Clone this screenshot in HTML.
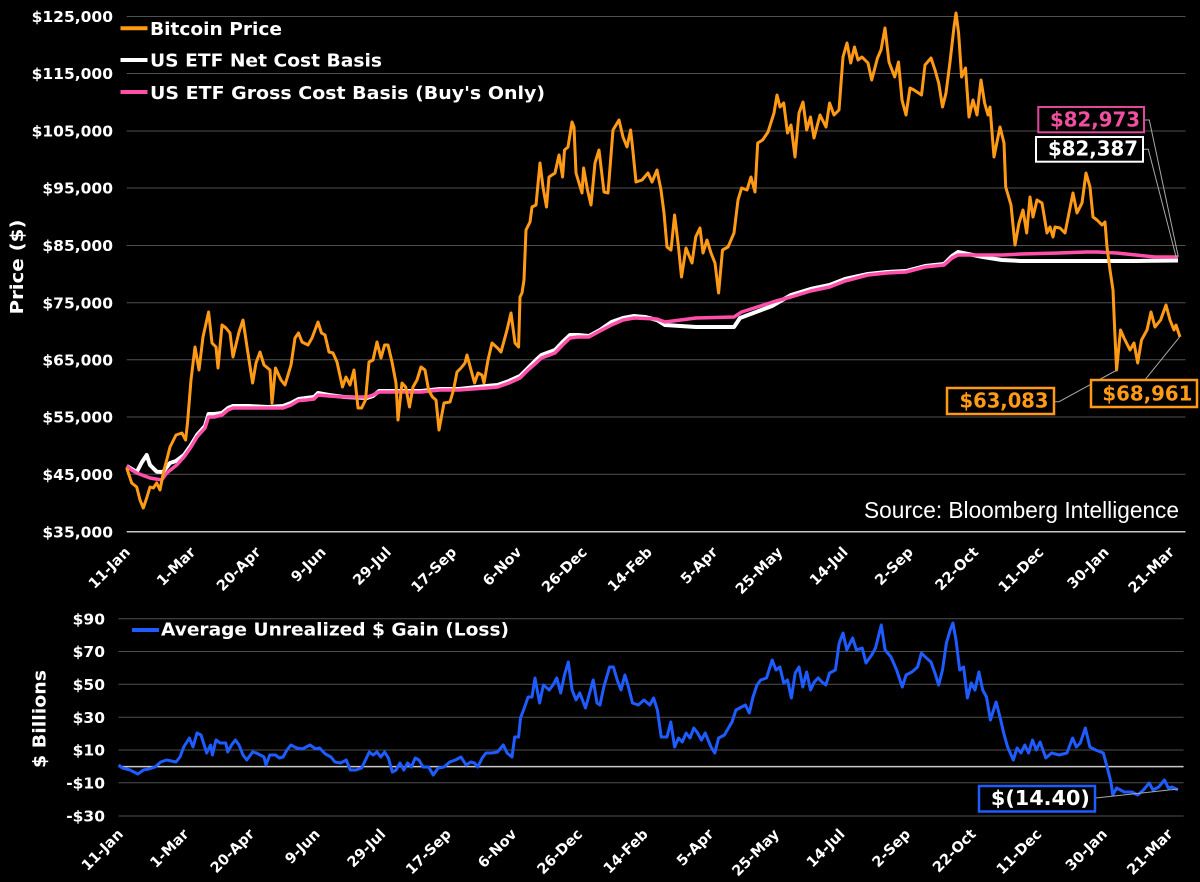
<!DOCTYPE html>
<html><head><meta charset="utf-8"><style>
html,body{margin:0;padding:0;background:#000;}
svg{display:block;}
text{font-family:"DejaVu Sans","Liberation Sans",sans-serif;font-weight:bold;fill:#fff;}
</style></head><body>
<svg width="1200" height="882" viewBox="0 0 1200 882" xmlns="http://www.w3.org/2000/svg">
<rect width="1200" height="882" fill="#000"/>
<!-- top gridlines -->
<g stroke="#505050" stroke-width="1">
<line x1="126.7" x2="1185.5" y1="16.5" y2="16.5"/>
<line x1="126.7" x2="1185.5" y1="73.5" y2="73.5"/>
<line x1="126.7" x2="1185.5" y1="131" y2="131"/>
<line x1="126.7" x2="1185.5" y1="188" y2="188"/>
<line x1="126.7" x2="1185.5" y1="245.5" y2="245.5"/>
<line x1="126.7" x2="1185.5" y1="302.7" y2="302.7"/>
<line x1="126.7" x2="1185.5" y1="359.8" y2="359.8"/>
<line x1="126.7" x2="1185.5" y1="417" y2="417"/>
<line x1="126.7" x2="1185.5" y1="474.3" y2="474.3"/>
</g>
<line x1="126.7" x2="1185.5" y1="531.7" y2="531.7" stroke="#c8c8c8" stroke-width="1.5"/>
<!-- top y labels -->
<g font-size="15.5" text-anchor="end">
<text x="113" y="22">$125,000</text>
<text x="113" y="79">$115,000</text>
<text x="113" y="136.5">$105,000</text>
<text x="113" y="193.5">$95,000</text>
<text x="113" y="251">$85,000</text>
<text x="113" y="308.3">$75,000</text>
<text x="113" y="365.4">$65,000</text>
<text x="113" y="422.6">$55,000</text>
<text x="113" y="480">$45,000</text>
<text x="113" y="537.3">$35,000</text>
</g>
<text transform="translate(23,267) rotate(-90)" font-size="18" text-anchor="middle" textLength="95" lengthAdjust="spacingAndGlyphs">Price ($)</text>
<!-- top x labels -->
<g font-size="14.5" text-anchor="end">
<text transform="translate(131,553) rotate(-45)">11-Jan</text>
<text transform="translate(196.3,553) rotate(-45)">1-Mar</text>
<text transform="translate(261.5,553) rotate(-45)">20-Apr</text>
<text transform="translate(326.8,553) rotate(-45)">9-Jun</text>
<text transform="translate(392,553) rotate(-45)">29-Jul</text>
<text transform="translate(457.3,553) rotate(-45)">17-Sep</text>
<text transform="translate(522.5,553) rotate(-45)">6-Nov</text>
<text transform="translate(587.8,553) rotate(-45)">26-Dec</text>
<text transform="translate(653,553) rotate(-45)">14-Feb</text>
<text transform="translate(718.3,553) rotate(-45)">5-Apr</text>
<text transform="translate(783.5,553) rotate(-45)">25-May</text>
<text transform="translate(848.8,553) rotate(-45)">14-Jul</text>
<text transform="translate(914,553) rotate(-45)">2-Sep</text>
<text transform="translate(979.3,553) rotate(-45)">22-Oct</text>
<text transform="translate(1044.5,553) rotate(-45)">11-Dec</text>
<text transform="translate(1109.8,553) rotate(-45)">30-Jan</text>
<text transform="translate(1175,553) rotate(-45)">21-Mar</text>
</g>
<!-- legend top -->
<line x1="120.5" x2="147.5" y1="28.3" y2="28.3" stroke="#ff9a16" stroke-width="4"/>
<text x="150" y="35" font-size="18" textLength="132" lengthAdjust="spacingAndGlyphs">Bitcoin Price</text>
<line x1="120.5" x2="147.5" y1="60" y2="60" stroke="#fff" stroke-width="4"/>
<text x="150" y="66.7" font-size="18" textLength="232" lengthAdjust="spacingAndGlyphs">US ETF Net Cost Basis</text>
<line x1="120.5" x2="147.5" y1="92" y2="92" stroke="#ff4fa8" stroke-width="4"/>
<text x="150" y="99" font-size="18" textLength="395" lengthAdjust="spacingAndGlyphs">US ETF Gross Cost Basis (Buy's Only)</text>
<!-- source -->
<text x="864" y="518" font-size="23" font-weight="normal" style="font-weight:normal;font-family:'Liberation Sans',sans-serif" fill="#d6d6d6" textLength="315" lengthAdjust="spacingAndGlyphs">Source: Bloomberg Intelligence</text>
<!-- white net cost basis -->
<polyline fill="none" stroke="#fff" stroke-width="4" stroke-linejoin="round" points="126.7,466 131.7,469 136.7,472 142,462 146.7,455 150,465 156.7,471.7 163,472 170,463 176,461 184,455 191,445 197,435 205,426 208.6,414 214,414 222,413 228,408 233,406 249,406 268,407 283,406 291,403 298.5,399 306,398 314,397 318,393 329,395 344,397 367,398 373,396 379,391 402,391 421,391 440,389 459,389 486,386 497.5,385 509,381 520,376 528,368 536,360 541.5,355 555,350 562.6,342 570,335 578,335 589,336 600,330 611.5,322 623,318 634,316 645,317 657,320 665,325 696,327 734,327 740,318 772,306 791,295 810.5,289 829.6,285 845,279 868,274 887,272 906,271 925,266 944,264 952,256 958,252 983,257 1002,260 1021,261 1097.5,261 1136,261 1178,260.5"/>
<!-- pink gross cost basis -->
<polyline fill="none" stroke="#ff4fa8" stroke-width="3.5" stroke-linejoin="round" points="126.7,466 131.7,470 136.7,473 150,478 161.7,480 166.7,473 176.7,465 184,457 191,447 197,437 205,428 208.6,417 214,417 222,415 228,410 233,408 249,408 268,408 283,408 291,405 298.5,400.6 306,400 314,399 318,395 329,396 344,397 367,397 373,395 379,392 402,392 421,392 440,390 459,390 486,388 497.5,387 509,383 520,378 528,370 536,363 541.5,358 555,353 562.6,345 570,338 578,337 589,337 600,331 611.5,325 623,320 634,318 657,319 665,322 696,318 734,317 741.6,312 776,301 791,297 810.5,291 829.6,287 845,281 868,275 887,273 906,272 925,267 944,265 952,258 958,255 983,255 1002,255 1021,254 1059,253 1086,252 1097.5,252 1116.6,253 1136,255 1155,257 1178,257"/>
<!-- orange bitcoin -->
<polyline fill="none" stroke="#ff9a16" stroke-width="3" stroke-linejoin="round" points="126.7,468 131.7,483 136.7,487 140,500 143.3,508 146.7,498 150,487 153.3,488 156.7,483 160,490 163.3,473 166.7,460 170,447 172,443 176,435 182,433 185.6,440 187.5,423 191,380 195,347 199,370 203,337 208.6,312 212,343 216,347 218,368 222,325 226,328 230,333 233,357 239,332 243,320 247,347 252.6,383 256,363 260,352 264,365 270,370 272,403 275.5,368 281,380 285,385 291,365 295,338 298.5,333 302,342 308,345 312,338 318,322 321.5,333 325,335 329,352 333,353 337,362 342.5,387 346,377 350,385 354,370 358,408 361.6,408 365.5,400 369,362 373,360 377,342 381,358 384.6,345 388,345 392,362 396,383 398,420 402,383 405.7,387 409.5,407 413,387 417,380 421,367 425,370 428.6,390 432.5,397 436,400 439,430 444,403 450,402 453.5,390 457,372 461,368 465,363 467,355 471,370 474.6,383 478,373 482,375 484,383 488,360 492,343 497.5,348 501,352 507,330 511,313 515,343 518.6,347 520,297 522,293 524,280 526,230 530,222 532,207 536,205 540,163 543,187 546.5,207 549,177 555,173 559,155 562.6,177 564.5,150 568,147 572,122 574,127 576,173 582,193 583.6,168 587.5,190 591,205 595,163 599,150 604,192 608,193 613,130 619,120 623,137 627,147 630.6,130 632.5,147 636,182 642,180 648,173 652,182 657,170 661,190 664,213 667,247 671,250 674.6,215 678.5,247 681.5,277 686,248 692,263 695.7,237 700,228 703,253 707,240 711,253 715,263 718.6,293 722.5,250 728,247 734,233 738,200 741.6,188 747,190 751,177 755,192 757.7,143 762.6,140 768,132 774,113 777,95 780,107 783.7,103 787.5,133 791,125 795,157 799,113 803,102 806.7,130 810.5,117 814,138 820,115 826,127 829.6,103 834,115 839,110 843,57 847,43 850.7,63 854.5,47 858,60 862,57 868,63 871.7,80 877.5,58 881,50 885,28 889,62 894.7,77 898.5,62 902,100 906,115 910,88 914,90 921.5,95 925,65 931,58 935,70 938.7,83 942.5,107 946,93 950,62 954,27 956,13 958.6,33 961.6,77 965.5,68 969,117 973,100 977,115 981,80 984.6,103 988,115 990,107 994,157 1000,127 1004,143 1005.7,187 1011,205 1015,245 1019,223 1023,210 1026.7,233 1030,197 1033,217 1037,200 1042,203 1047,233 1050,227 1053,237 1055,227 1060,228 1065,233 1073,193 1077,213 1082,203 1086,173 1090,187 1093,217 1097,220 1102,225 1105,222 1107,247 1110,270 1113,290 1114.7,330 1116.6,370 1120.5,330 1124,338 1130,350 1134,343 1137.7,363 1141.5,340 1147,330 1151,312 1155,327 1160.6,320 1166,305 1170,320 1174,330 1176,325 1180,337"/>
<!-- leader lines top -->
<g fill="none" stroke="#a8a8a8" stroke-width="1">
<polyline points="1145,120 1149.3,120 1178.3,256.7"/>
<polyline points="1144,149.3 1148.3,149.3 1176.7,259.3"/>
<polyline points="1055,401.7 1059,401.7 1117,370"/>
<polyline points="1145.4,379.3 1179.8,336.7"/>
</g>
<!-- callouts top -->
<rect x="1038.3" y="107" width="105.7" height="25.3" fill="#000" stroke="#e0489a" stroke-width="2"/>
<text x="1140" y="126.7" font-size="20" text-anchor="end" fill="#f0509f" style="fill:#f0509f" textLength="90" lengthAdjust="spacingAndGlyphs">$82,973</text>
<rect x="1036" y="137" width="107" height="24.7" fill="#000" stroke="#fff" stroke-width="2"/>
<text x="1138" y="155.5" font-size="20" text-anchor="end" textLength="90" lengthAdjust="spacingAndGlyphs">$82,387</text>
<rect x="947" y="388" width="107" height="26" fill="#000" stroke="#ff9a16" stroke-width="2.5"/>
<text x="1048.5" y="407.7" font-size="20" text-anchor="end" style="fill:#ff9a16" textLength="89" lengthAdjust="spacingAndGlyphs">$63,083</text>
<rect x="1091" y="380" width="106" height="27" fill="#000" stroke="#ff9a16" stroke-width="2.5"/>
<text x="1192.4" y="400.7" font-size="20" text-anchor="end" style="fill:#ff9a16" textLength="90" lengthAdjust="spacingAndGlyphs">$68,961</text>

<!-- bottom chart gridlines -->
<g stroke="#505050" stroke-width="1">
<line x1="118.6" x2="1183.6" y1="618.7" y2="618.7"/>
<line x1="118.6" x2="1183.6" y1="651.5" y2="651.5"/>
<line x1="118.6" x2="1183.6" y1="684.2" y2="684.2"/>
<line x1="118.6" x2="1183.6" y1="717.3" y2="717.3"/>
<line x1="118.6" x2="1183.6" y1="750" y2="750"/>
<line x1="118.6" x2="1183.6" y1="782.7" y2="782.7"/>
<line x1="118.6" x2="1183.6" y1="816" y2="816"/>
</g>
<line x1="118.6" x2="1183.6" y1="766.6" y2="766.6" stroke="#c8c8c8" stroke-width="1.5"/>
<g font-size="15.5" text-anchor="end">
<text x="105" y="624.3">$90</text>
<text x="105" y="657">$70</text>
<text x="105" y="689.8">$50</text>
<text x="105" y="722.9">$30</text>
<text x="105" y="755.6">$10</text>
<text x="105" y="788.3">-$10</text>
<text x="105" y="821.6">-$30</text>
</g>
<text transform="translate(45.5,719) rotate(-90)" font-size="18" text-anchor="middle" textLength="98" lengthAdjust="spacingAndGlyphs">$ Billions</text>
<g font-size="14.5" text-anchor="end">
<text transform="translate(124,835) rotate(-45)">11-Jan</text>
<text transform="translate(189.6,835) rotate(-45)">1-Mar</text>
<text transform="translate(255.2,835) rotate(-45)">20-Apr</text>
<text transform="translate(320.8,835) rotate(-45)">9-Jun</text>
<text transform="translate(386.4,835) rotate(-45)">29-Jul</text>
<text transform="translate(452,835) rotate(-45)">17-Sep</text>
<text transform="translate(517.6,835) rotate(-45)">6-Nov</text>
<text transform="translate(583.2,835) rotate(-45)">26-Dec</text>
<text transform="translate(648.8,835) rotate(-45)">14-Feb</text>
<text transform="translate(714.4,835) rotate(-45)">5-Apr</text>
<text transform="translate(780,835) rotate(-45)">25-May</text>
<text transform="translate(845.6,835) rotate(-45)">14-Jul</text>
<text transform="translate(911.2,835) rotate(-45)">2-Sep</text>
<text transform="translate(976.8,835) rotate(-45)">22-Oct</text>
<text transform="translate(1042.4,835) rotate(-45)">11-Dec</text>
<text transform="translate(1108,835) rotate(-45)">30-Jan</text>
<text transform="translate(1173.6,835) rotate(-45)">21-Mar</text>
</g>
<line x1="132" x2="159" y1="630" y2="630" stroke="#1f5cff" stroke-width="4"/>
<text x="161" y="635.7" font-size="18" textLength="348" lengthAdjust="spacingAndGlyphs">Average Unrealized $ Gain (Loss)</text>
<!-- blue series -->
<polyline fill="none" stroke="#1f5cff" stroke-width="3" stroke-linejoin="round" points="118.6,765 122.5,768 130,770 137.8,774 143.5,770 149,769 155,767 160.7,762 166.5,760 176,762 180,757 183.7,747 189.4,738 193,747 197,733 201,735 206.7,753 210.5,745 212.4,755 216,740 220,743 225.8,743 227.7,752 231.5,745 235.4,740 239,745 243,755 246.8,760 252.6,752 256.4,753 264,757 266,765 269.8,755 275.5,755 279.4,758 283,757 287,750 290.9,745 296.6,748 302.3,749 310,745 315.7,749 319.6,748 325.3,754 331,757 334.9,762 340.6,763 346.3,760 350.2,770 356,770 361.6,768 365.5,760 369.3,752 373.1,755 377,752 380.8,757 384.6,752 388.4,758 392.3,772 396.1,770 400,763 403.8,770 407.6,763 411.4,767 415.2,758 419,760 423,767 428.6,767 433.2,775 438.2,768 444,767 449.7,762 455.4,760 461,757 466.1,765 470.7,762 474.6,763 477.6,767 482.2,758 486,753 491.8,753 497.5,752 503.3,745 507.1,753 512,757 514.7,737 518.6,737 520.5,718 524.3,708 528.1,697 532,697 535,678 539.6,703 543.4,685 549.2,690 553,685 556.8,678 560.7,693 564.5,675 568.3,662 572.1,690 576,700 579.8,693 585.5,708 593.2,680 597,703 600,705 603.8,687 609.6,667 613.4,667 617.2,680 621,690 624.9,675 628.7,688 632.5,703 638.3,705 644,700 649.8,705 653.6,698 657.4,710 661.2,737 667,737 670.8,722 674.6,747 678.5,738 682.3,742 686.1,733 690,738 693.8,728 697.6,733 701.4,740 705.2,733 711,747 714.8,753 718.6,738 724.4,735 732,722 735.9,710 739.7,708 745.4,705 749.3,713 753,697 757,685 760.7,680 766.5,678 772.2,660 776,670 779.9,667 783.7,683 787.5,680 791.4,698 795.2,673 799,667 802.8,687 806.7,672 810.5,690 814.3,682 818.1,678 822,682 825.8,685 829.6,673 835.4,670 839.2,643 843,633 846.8,650 852.6,638 856.4,650 862.2,648 866,663 871.7,655 875.5,648 881.3,625 885.1,650 891,657 896.6,670 902.3,687 906.1,675 911.9,672 917.6,667 921.4,653 925.3,657 931,662 934.9,673 938.7,685 942.5,670 946.4,643 950.2,630 952.9,623 956,640 959.7,670 963.6,667 967.4,698 971.2,683 975,690 978.9,672 982.7,690 986.5,697 990.4,720 996.1,702 1000,717 1003.7,733 1007.6,747 1013.3,760 1017.1,748 1021,753 1024.8,745 1028.6,753 1032.5,740 1036.3,750 1040.1,742 1045.8,758 1051.6,753 1059.2,755 1066.9,753 1072.6,738 1076.4,747 1080.3,743 1085.3,728 1089.9,747 1095.6,750 1103.3,753 1107.1,767 1110.9,782 1112.8,795 1116.6,788 1124.3,792 1131.9,792 1137.7,795 1143.4,790 1149.2,783 1153,790 1158.7,787 1164.5,780 1168.3,788 1172.1,787 1177.9,790"/>
<line x1="1095.6" y1="798" x2="1178" y2="789" stroke="#a8a8a8" stroke-width="1"/>
<rect x="979" y="786" width="116" height="25.5" fill="#000" stroke="#1f5cff" stroke-width="2.5"/>
<text x="1089.9" y="805" font-size="20" text-anchor="end" textLength="99" lengthAdjust="spacingAndGlyphs">$(14.40)</text>
</svg>
</body></html>
